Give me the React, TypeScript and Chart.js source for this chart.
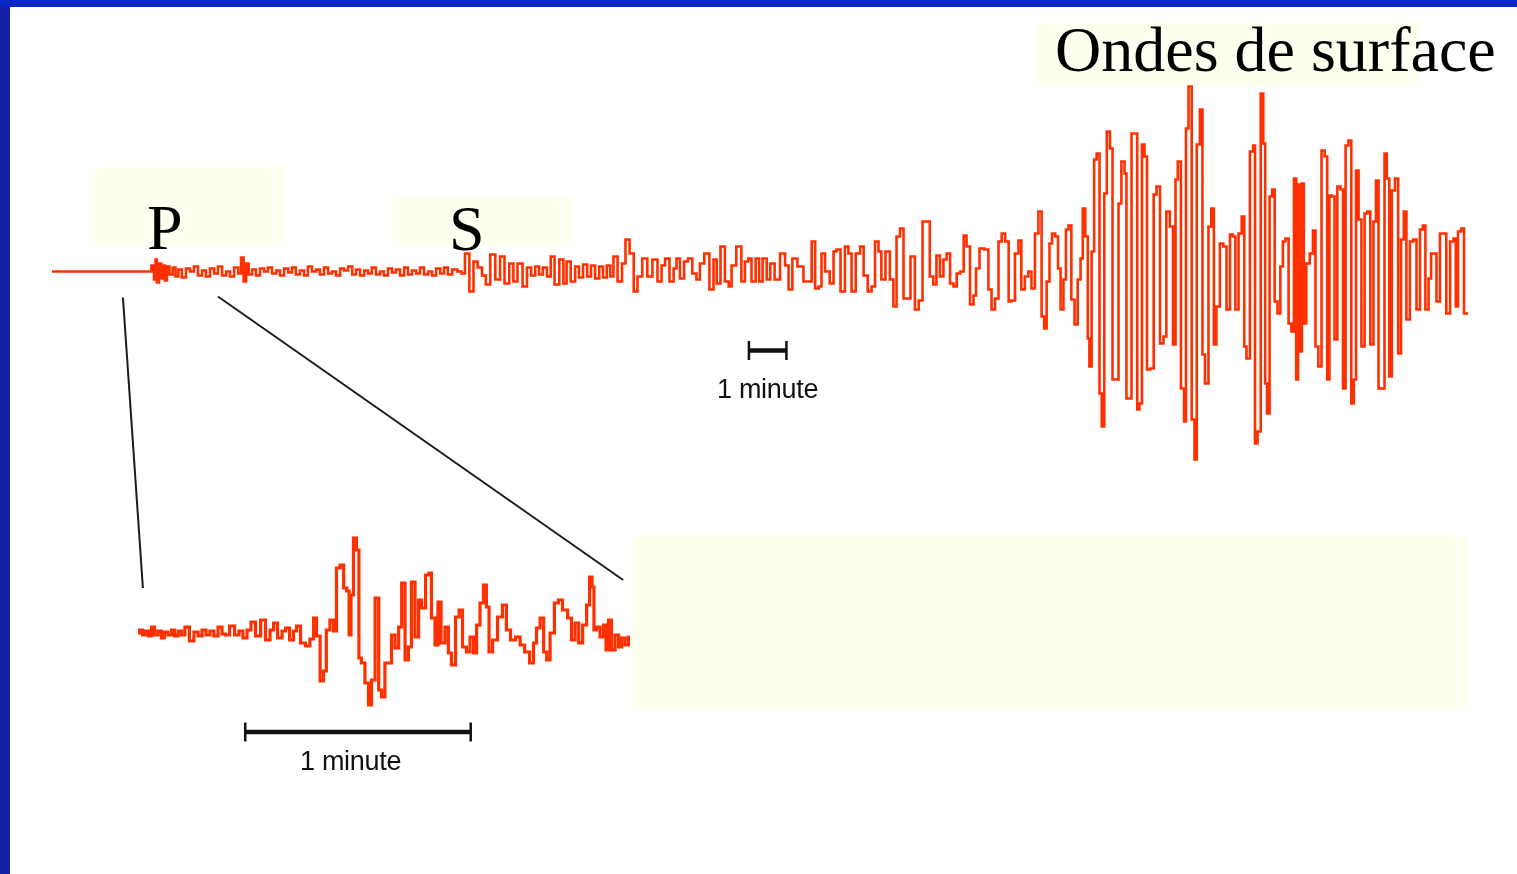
import React, { useEffect, useRef } from "react";
import { Chart, registerables } from "chart.js";

Chart.register(...registerables);

// ---------- DATA (time in seconds, amplitude in trace units) ----------
// Main seismogram
const preEventTimes = [0, 155];
const preEventAmps = [0, 0];

const pWaveTimes = [
  159, 163, 164, 167, 171, 174, 177, 180, 183, 188, 193, 197, 202, 208, 215, 221, 227, 234, 240, 246,
  253, 259, 265, 272, 278, 284, 291, 297, 300, 305, 308, 313, 319, 325, 332, 338, 344, 351, 357, 363,
  370, 376, 382, 388, 395, 401, 407, 414, 420, 426, 433, 439, 445, 452, 458, 464, 471, 477, 483, 490,
  496, 502, 508, 515, 521, 527, 534, 540, 546, 553, 559, 565, 572, 578, 584, 591, 597, 603, 610, 616,
  622, 628, 636, 644,
];
const pWaveAmps = [
  6, -8, 12, -11, 8, -7, 6, -9, 5, -3, 4, -5, 2, -6, 3, 0, 5, -4, 1, -5,
  3, -2, 5, -4, 0, -5, 4, -2, 14, -10, 8, -3, 2, -4, 3, 0, 4, -2, 1, -4,
  3, -1, 4, -3, 1, -4, 5, 0, 2, -3, 4, -2, 0, -4, 3, 1, 5, -3, 2, -4,
  1, -2, 4, -3, 0, -4, 3, -1, 2, -4, 4, -3, 1, -2, 4, -3, 0, -4, 3, -2,
  4, -3, 2, 0,
];

const sWaveTimes = [
  649, 655, 663, 668, 676, 682, 688, 696, 704, 711, 718, 726, 731, 739, 747, 753, 760, 766, 772, 778,
  785, 790, 797, 805, 810, 815, 823, 829, 835, 842, 848, 854, 861, 867, 873, 879, 884, 889, 897, 903,
  908, 916, 921, 928, 936, 944, 952, 960, 965, 971, 979, 984, 988, 995, 1001, 1007, 1015, 1020, 1026, 1034,
  1042, 1047, 1052, 1059, 1066, 1071, 1075, 1086, 1091, 1097, 1102, 1107, 1115, 1118, 1126, 1131, 1137, 1145, 1154, 1161,
  1165, 1173, 1181, 1192, 1197, 1202, 1208, 1213, 1217, 1224, 1232, 1236, 1241, 1249, 1255, 1260, 1265, 1273, 1279, 1284,
  1292, 1296, 1303, 1307, 1312, 1320, 1326, 1331, 1336, 1342, 1347, 1352, 1359, 1366, 1371, 1378, 1383, 1389, 1394, 1399,
  1405, 1410, 1415, 1421, 1426, 1431, 1437, 1442, 1446, 1453, 1457, 1461, 1468, 1476, 1481, 1486, 1492, 1497, 1502, 1508,
  1513, 1517, 1524, 1528, 1533, 1539, 1544, 1549,
];
const sWaveAmps = [
  -2, 18, -20, 10, 4, -4, -13, 17, -8, 15, -12, 8, -10, 8, -15, 4, -4, 5, -3, 4,
  -5, 15, -13, 12, -12, 10, -10, 5, -6, 7, -5, 6, -7, 5, -6, 6, -5, 15, -10, 8,
  32, 18, -20, -5, 13, -5, 12, -10, 6, 13, -10, 3, 13, -7, 10, 13, -2, -8, 8, 18,
  -18, 12, -12, 25, -10, -15, 6, 25, -10, 10, 13, -10, 13, -10, 13, -8, 8, -8, 18, 6,
  -18, 13, 5, -10, -10, 30, -17, -15, 18, 0, -12, 20, 22, -20, 25, 18, -20, 18, 25, -4,
  -20, -15, 30, 20, -8, 20, -8, -35, 35, 43, -27, -27, 15, -38, -29, 50, 50, -5, -13, 16,
  -5, 12, 18, -12, -15, -2, 0, 36, 25, -33, -24, 3, 23, 22, -18, -38, -27, 30, 38, 30,
  -30, -29, 18, 31, -18, -5, 0, -17,
];

const surfaceTimes = [
  1555, 1560, 1565, 1568, 1573, 1577, 1581, 1587, 1590, 1595, 1599, 1603, 1607, 1612, 1617, 1622, 1626, 1629, 1634, 1637,
  1639, 1644, 1647, 1652, 1656, 1659, 1664, 1667, 1674, 1675, 1682, 1686, 1691, 1696, 1697, 1702, 1707, 1712, 1715, 1719,
  1723, 1727, 1731, 1737, 1742, 1746, 1753, 1757, 1762, 1768, 1772, 1776, 1779, 1786, 1789, 1792, 1797, 1802, 1806, 1809,
  1816, 1817, 1824, 1828, 1833, 1836, 1841, 1847, 1852, 1857, 1863, 1866, 1871, 1876, 1881, 1884, 1888, 1895, 1898, 1901,
  1906, 1911, 1914, 1917, 1920, 1925, 1928, 1933, 1937, 1942, 1945, 1950, 1955, 1959, 1963, 1966, 1969, 1972, 1975, 1978,
  1983, 1989, 1993, 1997, 2002, 2007, 2012, 2015, 2019, 2023, 2027, 2032, 2037, 2040, 2045, 2049, 2054, 2057, 2061, 2065,
  2070, 2075, 2079, 2084, 2089, 2092, 2097, 2102, 2106, 2109, 2114, 2117, 2124, 2127, 2133, 2136, 2141, 2147, 2152, 2157,
  2163, 2166, 2171, 2176, 2179, 2184, 2188, 2195, 2199, 2204, 2211, 2215, 2218, 2222, 2228, 2231, 2236,
];
const surfaceAmps = [
  38, 60, -45, -57, -10, 28, 38, 35, 3, -38, -8, 42, 46, -28, -53, -8, 13, 63, 35, -67,
  -95, 20, 112, 118, -122, -155, 78, 140, 123, -108, -108, 68, 110, 98, -127, -127, 138, 138, -138, -132,
  127, 115, -98, -97, 77, 85, -72, -65, 60, 45, -73, 92, 110, -117, -150, 143, 185, -148, -188, 127,
  162, -83, -112, 45, 63, -73, -35, 28, 25, -38, 37, 35, -38, 38, 55, -75, -87, 120, 126, -172,
  -160, 178, 128, -112, -142, 75, 82, -30, -42, 5, 30, 33, -52, -60, 93, -108, 87, -80, 88, -52,
  8, 18, 41, -75, -95, 121, 115, -108, 76, 75, -68, 85, 82, -117, 126, 131, -132, -108, 101, 52,
  -75, 58, 60, -73, 50, 91, -117, -117, 118, 93, -105, 81, 93, -82, 32, 60, -48, 30, 32, -38,
  42, 46, -38, -7, 18, 18, -30, 38, 38, -42, 30, 33, -35, 40, 43, -42, -42,
];

// Zoomed P-wave window (seconds from window start)
const insetTimes = [
  0, 0.8, 1.6, 2.4, 3.2, 4.0, 4.8, 5.8, 6.6, 7.4, 8.5, 9.3, 10.1, 11.2, 11.9, 13.0, 14.3, 15.4, 16.5, 17.5,
  18.6, 19.6, 20.7, 21.8, 22.8, 23.6, 25.0, 26.3, 27.3, 28.4, 29.5, 30.5, 31.9, 33.2, 34.5, 35.6, 36.4, 37.7, 38.8, 39.6,
  40.9, 41.7, 42.5, 43.8, 45.1, 46.2, 47.0, 47.8, 48.9, 49.6, 50.4, 51.5, 52.3, 53.1, 54.2, 55.0, 55.8, 56.3, 56.8, 57.6,
  58.4, 58.9, 59.7, 60.8, 61.6, 62.4, 63.5, 64.3, 65.0, 66.1, 66.9, 67.7, 68.8, 69.6, 70.4, 71.4, 72.2, 73.0, 74.1, 74.9,
  75.7, 77.0, 77.5, 78.3, 79.4, 79.9, 81.0, 82.0, 82.8, 83.6, 85.0, 85.5, 86.8, 87.6, 88.7, 89.5, 90.3, 91.3, 92.1, 92.9,
  93.5, 94.8, 96.1, 97.4, 98.2, 99.6, 100.9, 102.0, 103.3, 104.6, 105.4, 106.2, 107.3, 108.1, 108.9, 109.9, 111.2, 112.0, 113.4, 114.7,
  115.5, 116.6, 117.4, 118.7, 119.5, 120.3, 120.8, 121.3, 122.1, 123.2, 124.0, 124.5, 125.3, 126.1, 127.2, 128.0, 128.8, 129.8, 130.6,
];
const insetAmps = [
  0, 3, -2, 2, -3, 6, -2, 2, -5, 1, -2, 3, -3, 2, -2, 6, -8, 1, -3, 3,
  -2, 2, -3, 6, -1, -2, 7, -2, 2, -5, 3, 11, -3, 13, -7, 3, 10, -5, 2, 5,
  -7, 2, 7, -10, -13, -6, 15, -3, -48, -38, 3, 13, 2, 65, 68, 45, 42, -2, 38, 95,
  83, -25, -30, -50, -72, -47, 35, -57, -64, -30, -30, -2, -15, 6, 50, -27, -14, 51, -4, 33,
  25, 58, 60, 15, -12, 31, -10, 6, -20, -32, 16, 23, -14, -19, -4, -20, 8, 30, 48, 26,
  -19, -7, 16, 28, 3, -7, -4, -12, -19, -30, -10, 5, 15, -19, -27, 0, 30, 33, 23, 15,
  -7, 10, -10, 8, 28, 56, 46, 3, 6, -4, 8, -17, 13, -17, -2, -14, -5, -12, -4,
];

// Annotations
const waveLabels = ["P", "S", "Ondes de surface"];
const scaleBarText = "1 minute";
const scaleBarSeconds = 60;
const mainScaleBarStart = 1100; // s
const mainScaleBarLevel = -79;
const insetScaleBarStart = 28.4; // s
const insetScaleBarLevel = -99;
const connectorMainTimes = [112, 262];
const connectorMainAmps = [-26, -25];
const connectorInsetTimes = [1.3, 128.8];
const connectorInsetAmps = [45, 53];

// ---------- LAYOUT ----------
const W = 1517;
const H = 874;
const MAIN_LEFT_PX = 52;
const MAIN_BASE_PX = 271.5;
const MAIN_PX_PER_MIN = 38;
const INSET_LEFT_PX = 138;
const INSET_BASE_PX = 633;
const INSET_PX_PER_MIN = 226;

const TRACE_COLOR = "#ff3000";
const BOX_COLOR = "#fffff0";
const SERIF = "'Liberation Serif', 'Times New Roman', Times, serif";
const SANS = "'Liberation Sans', Arial, Helvetica, sans-serif";

const toPoints = (ts: number[], as: number[]) => ts.map((t, i) => ({ x: t, y: as[i] }));

export default function App() {
  const canvasRef = useRef<HTMLCanvasElement | null>(null);

  useEffect(() => {
    const canvas = canvasRef.current;
    if (!canvas) return;
    const mainSecPerPx = 60 / MAIN_PX_PER_MIN;
    const insetSecPerPx = 60 / INSET_PX_PER_MIN;

    const overlay = {
      id: "seismoOverlay",
      afterDatasetsDraw(chart: any) {
        const ctx: CanvasRenderingContext2D = chart.ctx;
        const { x, y, xi, yi } = chart.scales;
        ctx.save();
        ctx.strokeStyle = "#1c1c1c";
        ctx.lineWidth = 2;
        for (let i = 0; i < connectorMainTimes.length; i++) {
          ctx.beginPath();
          ctx.moveTo(x.getPixelForValue(connectorMainTimes[i]), y.getPixelForValue(connectorMainAmps[i]));
          ctx.lineTo(xi.getPixelForValue(connectorInsetTimes[i]), yi.getPixelForValue(connectorInsetAmps[i]));
          ctx.stroke();
        }
        const drawBar = (sx: any, sy: any, start: number, level: number, thick: number, tickH: number) => {
          const x1 = sx.getPixelForValue(start);
          const x2 = sx.getPixelForValue(start + scaleBarSeconds);
          const yb = sy.getPixelForValue(level);
          ctx.fillStyle = "#111";
          ctx.fillRect(x1, yb - thick / 2, x2 - x1, thick);
          ctx.fillRect(x1 - 1, yb - tickH / 2, 2.5, tickH);
          ctx.fillRect(x2 - 1.5, yb - tickH / 2, 2.5, tickH);
        };
        drawBar(x, y, mainScaleBarStart, mainScaleBarLevel, 4.5, 19);
        drawBar(xi, yi, insetScaleBarStart, insetScaleBarLevel, 4.5, 19);
        ctx.restore();
      },
    };

    const chart = new Chart(canvas, {
      type: "scatter",
      data: {
        datasets: [
          {
            label: "Sismogramme",
            data: [
              ...toPoints(preEventTimes, preEventAmps),
              ...toPoints(pWaveTimes, pWaveAmps),
              ...toPoints(sWaveTimes, sWaveAmps),
              ...toPoints(surfaceTimes, surfaceAmps),
            ],
            xAxisID: "x",
            yAxisID: "y",
            showLine: true,
            stepped: "middle",
            borderColor: TRACE_COLOR,
            backgroundColor: TRACE_COLOR,
            borderWidth: 2.6,
            pointRadius: 0,
            fill: false,
          } as any,
          {
            label: "Zoom sur l'onde P",
            data: toPoints(insetTimes, insetAmps),
            xAxisID: "xi",
            yAxisID: "yi",
            showLine: true,
            stepped: "middle",
            borderColor: TRACE_COLOR,
            backgroundColor: TRACE_COLOR,
            borderWidth: 3.2,
            pointRadius: 0,
            fill: false,
          } as any,
        ],
      },
      options: {
        animation: false,
        responsive: false,
        maintainAspectRatio: false,
        events: [],
        layout: { padding: 0 },
        plugins: { legend: { display: false }, tooltip: { enabled: false } },
        scales: {
          x: {
            type: "linear", axis: "x", display: false, bounds: "data",
            min: -MAIN_LEFT_PX * mainSecPerPx, max: (W - MAIN_LEFT_PX) * mainSecPerPx,
          },
          y: {
            type: "linear", axis: "y", display: false, bounds: "data",
            min: MAIN_BASE_PX - H, max: MAIN_BASE_PX,
          },
          xi: {
            type: "linear", axis: "x", display: false, bounds: "data",
            min: -INSET_LEFT_PX * insetSecPerPx, max: (W - INSET_LEFT_PX) * insetSecPerPx,
          },
          yi: {
            type: "linear", axis: "y", display: false, bounds: "data",
            min: INSET_BASE_PX - H, max: INSET_BASE_PX,
          },
        } as any,
      },
      plugins: [overlay],
    });
    return () => chart.destroy();
  }, []);

  const box = (left: number, top: number, width: number, height: number) => (
    <div style={{ position: "absolute", left, top, width, height, background: BOX_COLOR }} />
  );
  const serifLabel = (text: string, left: number, top: number) => (
    <div style={{ position: "absolute", left, top, font: `64px ${SERIF}`, lineHeight: "64px", color: "#000", whiteSpace: "nowrap" }}>
      {text}
    </div>
  );
  const sansLabel = (text: string, left: number, top: number) => (
    <div style={{ position: "absolute", left, top, font: `27px ${SANS}`, lineHeight: "27px", color: "#111", whiteSpace: "nowrap", letterSpacing: "-0.3px" }}>
      {text}
    </div>
  );

  return (
    <div style={{ position: "fixed", left: 0, top: 0, width: W, height: H, background: "#fff", overflow: "hidden" }}>
      <div style={{ position: "absolute", left: 0, top: 0, width: W, height: 7, background: "#0a27c6" }} />
      <div style={{ position: "absolute", left: 0, top: 7, width: 10, height: H - 7, background: "#1120a6" }} />
      {box(90, 166, 193, 81)}
      {box(393, 197, 178, 50)}
      {box(1035, 22, 384, 65)}
      {box(632, 535, 835, 176)}
      <canvas ref={canvasRef} width={W} height={H} style={{ position: "absolute", left: 0, top: 0, width: W, height: H }} />
      {serifLabel(waveLabels[0], 147, 196)}
      {serifLabel(waveLabels[1], 449, 197)}
      {serifLabel(waveLabels[2], 1055, 18)}
      {sansLabel(scaleBarText, 717, 376)}
      {sansLabel(scaleBarText, 300, 748)}
    </div>
  );
}
